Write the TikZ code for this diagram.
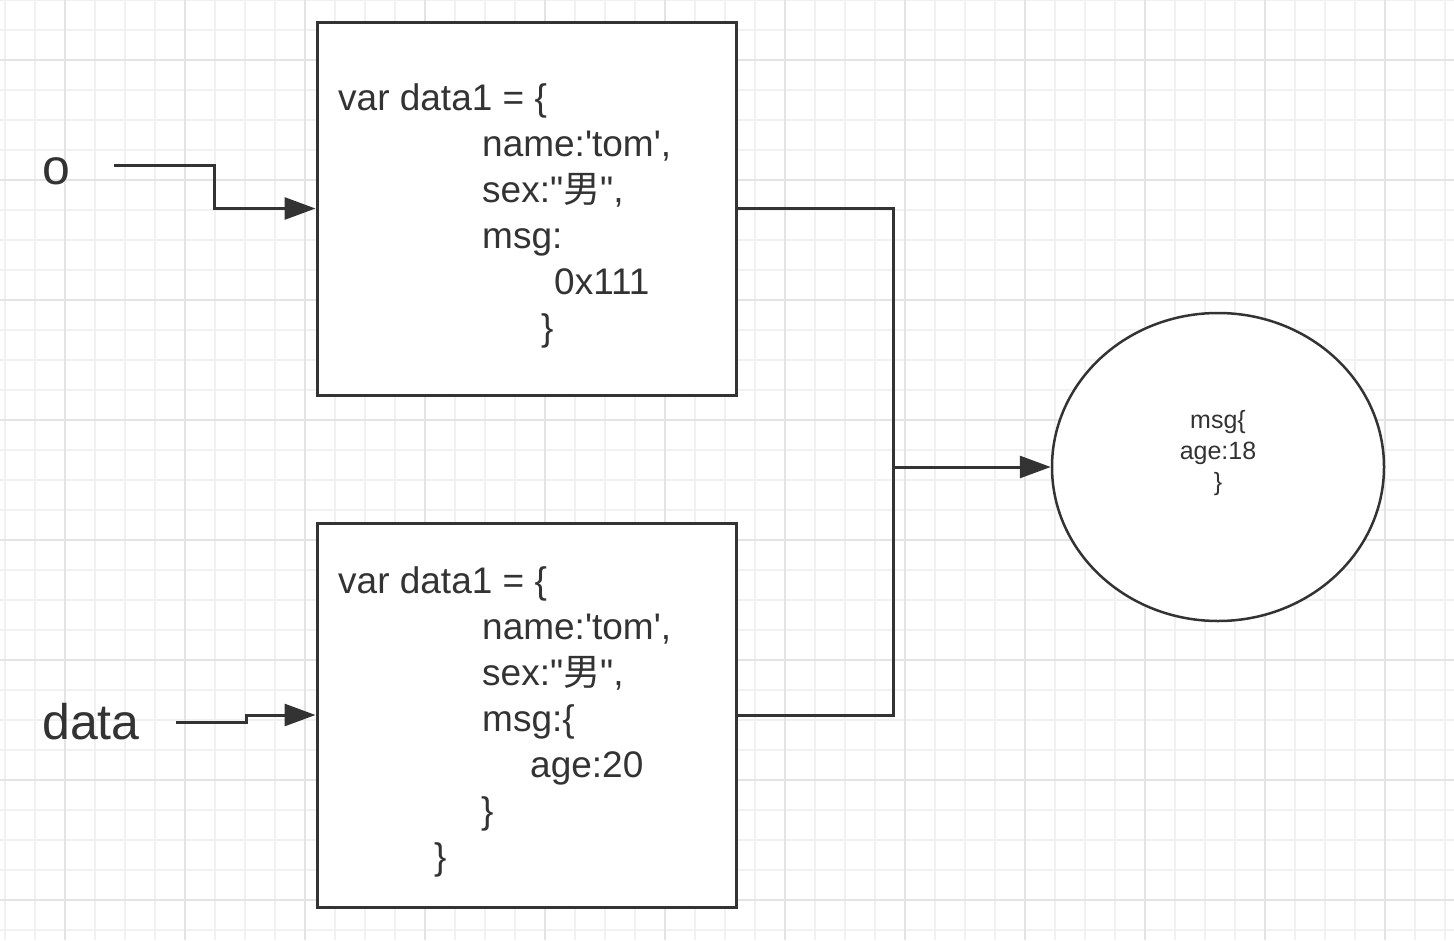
\documentclass[tikz,border=0pt]{standalone}
\usepackage{fontspec}
\setmainfont{Liberation Sans}
\newfontfamily\cjk{Noto Sans CJK SC}
\usetikzlibrary{arrows.meta,shapes.geometric}
\definecolor{ink}{HTML}{333333}
\definecolor{gridminor}{HTML}{F1F1F1}
\definecolor{gridmajor}{HTML}{E4E4E4}
\newcommand{\q}{\textquotesingle}
\newcommand{\qq}{\textquotedbl}
\tikzset{
  box/.style={draw=ink,line width=3pt,rectangle,inner sep=0pt,fill=white},
  code/.style={anchor=base west,inner sep=0pt,text=ink,font=\fontsize{37}{44}\selectfont},
  lbl/.style={anchor=base west,inner sep=0pt,text=ink,font=\fontsize{50}{60}\selectfont},
  conn/.style={draw=ink,line width=3pt},
  arr/.style={conn,-{Triangle[length=31pt,width=22pt]}},
}
\begin{document}
\begin{tikzpicture}[x=1pt,y=-1pt]
\useasboundingbox (0,0) rectangle (1454,940);
\fill[white] (0,0) rectangle (1454,940);
% grid
\foreach \x in {5,35,...,1454} \draw[gridminor,line width=1.5pt] (\x,0) -- (\x,940);
\foreach \y in {0,30,...,940} \draw[gridminor,line width=1.5pt] (0,\y) -- (1454,\y);
\foreach \x in {65,185,...,1454} \draw[gridmajor,line width=2pt] (\x,0) -- (\x,940);
\foreach \y in {60,180,...,940} \draw[gridmajor,line width=2pt] (0,\y) -- (1454,\y);
% boxes
\node[box,minimum width=419pt,minimum height=373pt] (box1) at (526.5,208.5) {};
\node[box,minimum width=419pt,minimum height=384pt] (box2) at (526.5,715) {};
\node[draw=ink,line width=2.5pt,ellipse,fill=white,inner sep=0pt,minimum width=332pt,minimum height=308pt] (circ) at (1218,467) {};
% text box1
\node[code] (t1a) at (338,110) {var data1 = \{};
\node[code] (t1b) at (482,156) {name:\q tom\q ,};
\node[code] (t1c) at (482,202) {sex:\qq{\cjk 男}\qq,};
\node[code] (t1d) at (482,248) {msg:};
\node[code] (t1e) at (554,294) {0x111};
\node[code] (t1f) at (541,340) {\}};
% text box2
\node[code] (t2a) at (338,593) {var data1 = \{};
\node[code] (t2b) at (482,639) {name:\q tom\q ,};
\node[code] (t2c) at (482,685) {sex:\qq{\cjk 男}\qq,};
\node[code] (t2d) at (482,731) {msg:\{};
\node[code] (t2e) at (530,777) {age:20};
\node[code] (t2f) at (481,823) {\}};
\node[code] (t2g) at (434,869) {\}};
% circle text
\node[text=ink,align=center,inner sep=0pt,font=\fontsize{25}{31}\selectfont] (ct) at (1218,453) {msg\{\\age:18\\\}};
% labels
\node[lbl] (lo) at (42,184) {o};
\node[lbl] (ldata) at (42,739) {data};
\coordinate (ostart) at (114,165);
\coordinate (dstart) at (176,722);
\coordinate (junc) at (893,467);
% connectors
\draw[arr] (ostart) -- (214,165) |- (box1.west);
\draw[arr] (dstart) -- (246,722) |- (box2.west);
\draw[conn] (box1.east) -| (junc);
\draw[conn] (box2.east) -| (junc);
\draw[arr] (junc) -- (circ.west);
\end{tikzpicture}
\end{document}
